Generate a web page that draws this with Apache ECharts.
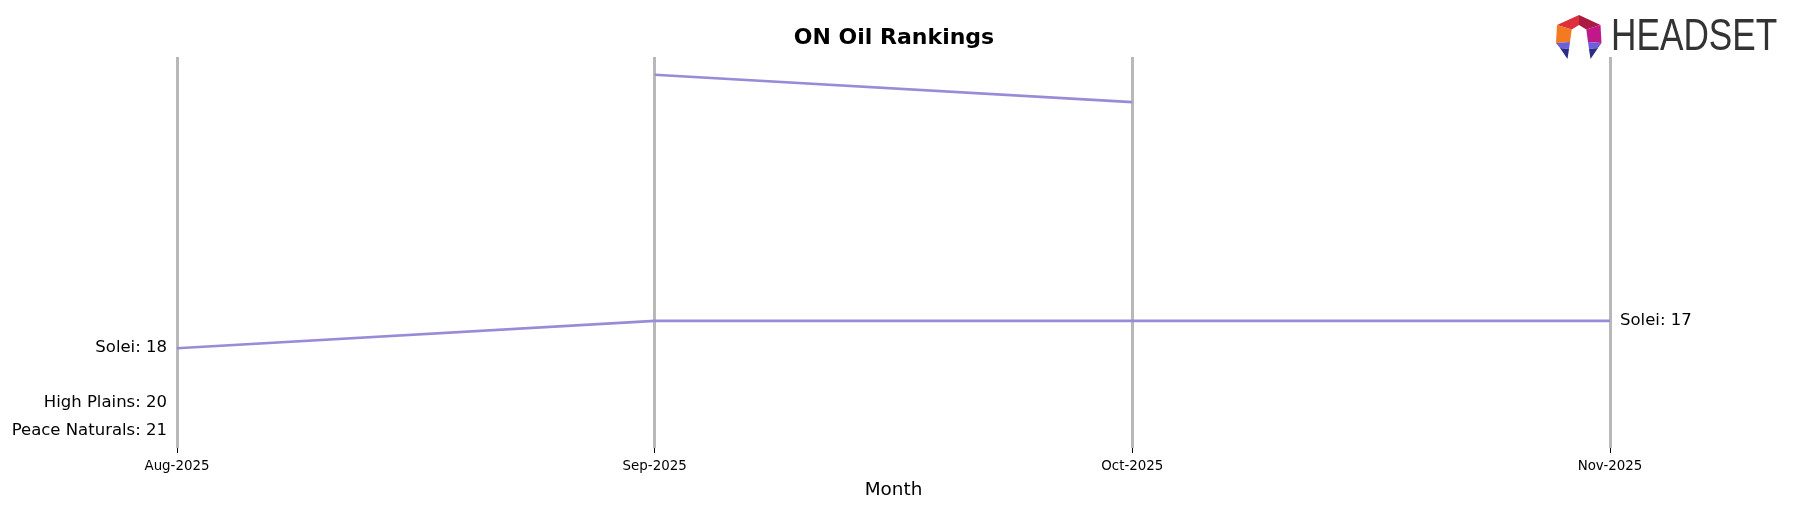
<!DOCTYPE html>
<html>
<head>
<meta charset="utf-8">
<script src="https://cdn.jsdelivr.net/npm/echarts@6/dist/echarts.min.js"></script>
<style>
html,body{margin:0;padding:0;background:#fff;}
#chart{width:1793px;height:507px;}
</style>
</head>
<body>
<div id="chart"></div>
<script>
// ---- data ----
const months = ['Aug-2025', 'Sep-2025', 'Oct-2025', 'Nov-2025'];
const brandNames = ['Solei', 'Unlabeled brand', 'High Plains', 'Peace Naturals'];
const soleiRanks = [18, 17, 17, 17];
const unlabeledRanks = [null, 8, 9, null];
const highPlainsRanks = [20, null, null, null];
const peaceNaturalsRanks = [21, null, null, null];
const allRanks = [soleiRanks, unlabeledRanks, highPlainsRanks, peaceNaturalsRanks];
const showNames = [true, false, true, true];

const lineColor = '#9a8ad8';
const FONT = 'DejaVu Sans';

function buildSeries(name, ranks, labelled) {
  const last = months.length - 1;
  const data = ranks.map((v, i) => {
    if (v === null) return '-';
    const edge = labelled && (i === 0 || i === last);
    return {
      value: v,
      label: {
        show: edge,
        position: i === 0 ? 'left' : 'right',
        distance: 10,
        formatter: name + ': ' + v,
        color: '#000',
        fontSize: 16.5,
        fontFamily: FONT
      }
    };
  });
  return {
    name: name,
    type: 'line',
    data: data,
    symbol: 'circle',
    symbolSize: 0,
    showSymbol: true,
    connectNulls: false,
    silent: true,
    lineStyle: { color: lineColor, width: 2.6 },
    itemStyle: { color: lineColor },
    z: 3
  };
}

const chart = echarts.init(document.getElementById('chart'), null, { renderer: 'canvas' });

const logo = [
  { pts: [[1579,15],[1557,25],[1571.7,29.5],[1579,25]], c: '#de2f3c' },
  { pts: [[1579,15],[1600.5,25],[1586.3,29.5],[1579,25]], c: '#aa1b41' },
  { pts: [[1557,25],[1556,43],[1570,42],[1571.7,29.5]], c: '#f47a22' },
  { pts: [[1600.5,25],[1601.5,43],[1588,42],[1586.3,29.5]], c: '#c0188b' },
  { pts: [[1556,43],[1570,42],[1569,49],[1560,48]], c: '#6b60d8' },
  { pts: [[1560,48],[1569,49],[1567.5,59]], c: '#2b2e88' },
  { pts: [[1601.5,43],[1588,42],[1589,49],[1598,48]], c: '#6b60d8' },
  { pts: [[1598,48],[1589,49],[1590.5,59]], c: '#2b2e88' }
];

const graphics = logo.map(p => ({
  type: 'polygon',
  shape: { points: p.pts },
  style: { fill: p.c },
  silent: true
}));
graphics.push({
  type: 'text',
  x: 1611,
  y: 38,
  scaleX: 0.8,
  style: {
    text: 'HEADSET',
    fill: '#333333',
    fontSize: 44,
    fontFamily: 'Liberation Sans',
    fontWeight: 'normal',
    verticalAlign: 'middle',
    align: 'left'
  },
  silent: true
});

chart.setOption({
  animation: false,
  backgroundColor: '#ffffff',
  title: {
    text: 'ON Oil Rankings',
    left: 889,
    textAlign: 'center',
    top: 22,
    textStyle: { fontSize: 22, fontWeight: 'bold', fontFamily: FONT, color: '#000' }
  },
  grid: { left: 177, right: 183, top: 57, bottom: 59 },
  xAxis: {
    type: 'category',
    data: months,
    boundaryGap: false,
    axisLine: { show: false },
    axisTick: { show: true, length: 5, lineStyle: { color: '#000', width: 1 } },
    axisLabel: { fontSize: 13.4, fontFamily: FONT, color: '#000', margin: 12 },
    splitLine: { show: true, lineStyle: { color: '#b8b8b8', width: 3 } },
    name: 'Month',
    nameLocation: 'middle',
    nameGap: 33,
    nameTextStyle: { fontSize: 18.4, fontFamily: FONT, color: '#000' }
  },
  yAxis: {
    type: 'value',
    inverse: true,
    min: 7.35,
    max: 21.65,
    show: false,
    splitLine: { show: false }
  },
  series: brandNames.map((n, i) => buildSeries(n, allRanks[i], showNames[i])),
  graphic: graphics
});
</script>
</body>
</html>
